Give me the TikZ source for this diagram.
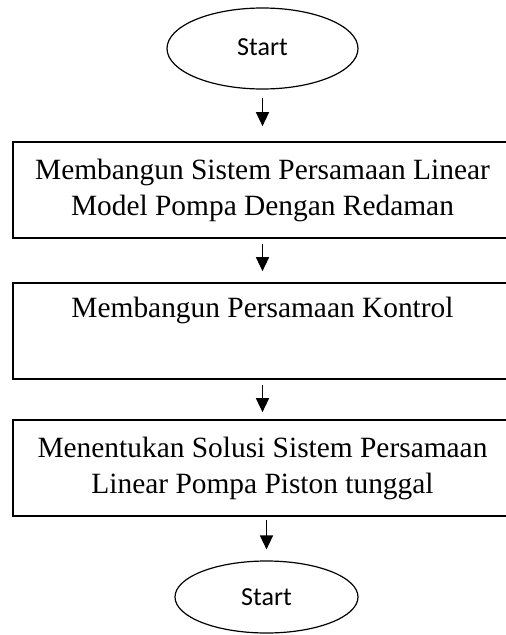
\documentclass[tikz,border=0pt]{standalone}
\usepackage{fontspec}
\newfontfamily\boxfont{Liberation Serif}
\newfontfamily\termfont{Carlito}
\usetikzlibrary{arrows.meta,shapes.geometric}
\begin{document}
\begin{tikzpicture}[x=1pt,y=-1pt,
  term/.style={draw, line width=1.2pt, ellipse, inner sep=0pt,
    font=\termfont\fontsize{26}{30}\selectfont},
  stepbox/.style={draw, line width=1.7pt, rectangle, inner sep=0pt,
    minimum width=499pt, minimum height=96pt, align=center,
    font=\boxfont\fontsize{29.4}{36}\selectfont},
  arr/.style={line width=1.5pt, -{Triangle[width=13pt,length=14pt]}}]
\useasboundingbox (0,0) rectangle (506,635);
\clip (0,0) rectangle (506,635);
\node[term, minimum width=191pt, minimum height=81pt] (s1) at (262.5,48.5) {\raisebox{3pt}{Start}};
\node[stepbox] (b1) at (262.5,190) {Membangun Sistem Persamaan Linear\\Model Pompa Dengan Redaman};
\node[stepbox] (b2) at (262.5,331) {Membangun Persamaan Kontrol\\\strut};
\node[stepbox] (b3) at (262.5,468) {Menentukan Solusi Sistem Persamaan\\Linear Pompa Piston tunggal};
\node[term, minimum width=183pt, minimum height=72pt] (s2) at (266.5,597) {Start};
\draw[arr, shorten <=8pt, shorten >=15pt] (s1.south) -- (b1.north);
\draw[arr, shorten <=5pt, shorten >=11pt] (b1.south) -- (b2.north);
\draw[arr, shorten <=5pt, shorten >=7pt] (b2.south) -- (b3.north);
\draw[arr, shorten <=3pt, shorten >=11pt] (b3.south -| s2.north) -- (s2.north);
\end{tikzpicture}
\end{document}
